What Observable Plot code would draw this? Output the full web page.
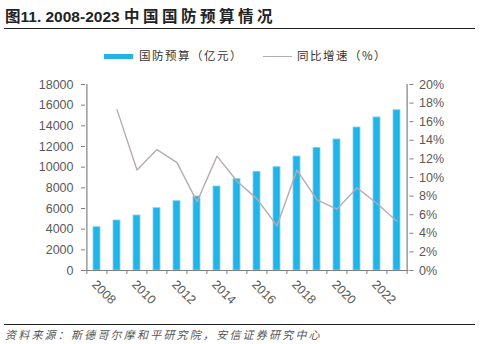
<!DOCTYPE html>
<html><head><meta charset="utf-8">
<script src="https://cdn.jsdelivr.net/npm/d3@7"></script>
<script src="https://cdn.jsdelivr.net/npm/@observablehq/plot@0.6"></script>
<style>
body{margin:0;background:#fff;width:487px;height:344px;overflow:hidden;position:relative;font-family:"Liberation Sans","Noto Sans CJK SC",sans-serif;}
#title{position:absolute;left:5px;top:4px;font-size:15.5px;font-weight:bold;color:#222;white-space:nowrap;}
#title .cn{letter-spacing:3.5px;}
#tline{position:absolute;left:4px;top:28px;width:471px;height:0;border-top:1.5px solid #222;}
#legend{position:absolute;top:49px;left:0;width:487px;font-size:11.5px;color:#333;font-family:"Noto Sans CJK SC",sans-serif;letter-spacing:1.5px;}
.li{position:absolute;top:0;white-space:nowrap;}
.sw{position:absolute;}
#chart{position:absolute;left:0;top:70px;}
#cline{position:absolute;left:4px;top:324px;width:471px;border-top:1px solid #222;}
#caption{position:absolute;left:5px;top:326px;font-size:11px;color:#555;font-style:italic;font-family:"Noto Sans CJK SC",sans-serif;white-space:nowrap;letter-spacing:2.2px;}
</style></head>
<body>
<div id="title">图11. 2008-2023 <span class="cn">中国国防预算情况</span></div>
<div id="tline"></div>
<div id="legend"></div>
<div id="chart"></div>
<div id="cline"></div>
<div id="caption">资料来源：斯德哥尔摩和平研究院，安信证券研究中心</div>
<script>
const years = [2008,2009,2010,2011,2012,2013,2014,2015,2016,2017,2018,2019,2020,2021,2022,2023];
const budget = [4190,4840,5320,6030,6710,7160,8130,8840,9550,10000,11030,11870,12680,13840,14810,15510];
const growth = [null,17.3,10.8,13.0,11.6,7.4,12.3,9.6,7.7,4.8,10.8,7.6,6.6,8.9,7.2,5.3];
const leftTicks = [0,2000,4000,6000,8000,10000,12000,14000,16000,18000];
const rightTicks = [0,2,4,6,8,10,12,14,16,18,20];
const xLabels = [2008,2010,2012,2014,2016,2018,2020,2022];
const seriesNames = ["国防预算（亿元）","同比增速（%）"];

const barColor = "#22b4e6";
const lineColor = "#b5adad";
const textColor = "#595959";
const axisColor = "#808080";

const W = 487, H = 245, mL = 85, mR = 78.5, mT = 14, mB = 45;
const step = (W - mL - mR) / years.length;
const yMax = leftTicks[leftTicks.length-1];
const k = yMax / rightTicks[rightTicks.length-1];
const tickLen = 4 / (H - mT - mB) * yMax;

const rows = years.map((y,i)=>({year:y, budget:budget[i], growth:growth[i]}));
const lineRows = rows.filter(d=>d.growth!=null);
const pi = 0.65;

const chart = Plot.plot({
  width: W, height: H,
  marginLeft: mL, marginRight: mR, marginTop: mT, marginBottom: mB,
  style: {fontFamily: '"Liberation Sans", Arial, sans-serif', fontSize: "12.5px", color: textColor, background: "#fff"},
  x: {type: "band", domain: years, paddingInner: pi, paddingOuter: pi/2, align: 0.5, axis: null},
  y: {domain: [0, yMax], axis: null},
  marks: [
    Plot.barY(rows, {x: "year", y: "budget", fill: barColor, stroke: "#7fd3f2", strokeWidth: 0.8}),
    Plot.line(lineRows, {x: "year", y: d => d.growth * k, stroke: lineColor, strokeWidth: 1.4}),
    Plot.ruleY([0], {stroke: axisColor, strokeWidth: 1.2}),
    Plot.ruleX([years[0]], {x: d=>d, dx: -step/2, stroke: axisColor, strokeWidth: 1.2}),
    Plot.ruleX([years[years.length-1]], {x: d=>d, dx: step/2, stroke: axisColor, strokeWidth: 1.2}),
    Plot.ruleX(years, {x: d=>d, dx: -step/2, y1: 0, y2: -tickLen, stroke: axisColor}),
    Plot.ruleX([years[years.length-1]], {x: d=>d, dx: step/2, y1: 0, y2: -tickLen, stroke: axisColor}),
    Plot.text(xLabels, {x: d=>d, y: 0, text: d=>String(d), rotate: 45, textAnchor: "start", dy: 12, dx: -3, fill: textColor, fontSize: 12.5}),
    Plot.axisY(leftTicks, {anchor: "left", label: null, tickSize: 4, tickPadding: 8, stroke: axisColor, color: textColor, fontSize: 12.5, tickFormat: d=>String(d)}),
    Plot.axisY(rightTicks.map(p=>p*k), {anchor: "right", label: null, tickSize: 4, tickPadding: 6, stroke: axisColor, color: textColor, fontSize: 12.5, tickFormat: d => Math.round(d/k) + "%"})
  ]
});
document.getElementById("chart").appendChild(chart);

const lg = document.getElementById("legend");
lg.innerHTML = `
<div class="sw" style="left:104px;top:5px;width:29px;height:5px;background:${barColor}"></div>
<div class="li" style="left:139px;top:-2px">${seriesNames[0]}</div>
<div class="sw" style="left:263px;top:7px;width:29px;height:0;border-top:1.3px solid ${lineColor}"></div>
<div class="li" style="left:297px;top:-2px">${seriesNames[1]}</div>`;
</script>
</body></html>
